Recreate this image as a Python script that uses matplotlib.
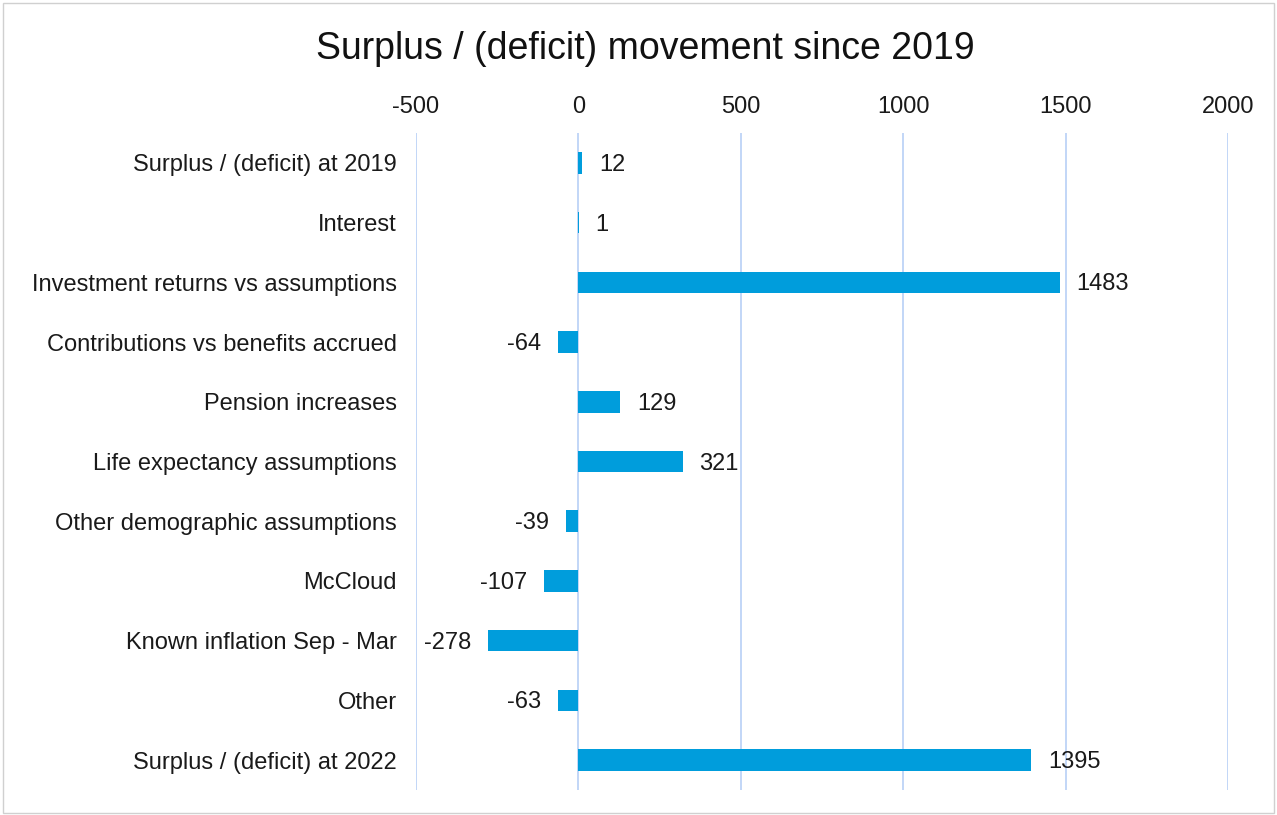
import matplotlib
matplotlib.use("Agg")
import matplotlib.pyplot as plt
from matplotlib.patches import Rectangle

categories = [
    "Surplus / (deficit) at 2019",
    "Interest",
    "Investment returns vs assumptions",
    "Contributions vs benefits accrued",
    "Pension increases",
    "Life expectancy assumptions",
    "Other demographic assumptions",
    "McCloud",
    "Known inflation Sep - Mar",
    "Other",
    "Surplus / (deficit) at 2022",
]
values = [12, 1, 1483, -64, 129, 321, -39, -107, -278, -63, 1395]
xticks = [-500, 0, 500, 1000, 1500, 2000]
title = "Surplus / (deficit) movement since 2019"

plt.rcParams['font.family'] = ['Liberation Sans', 'DejaVu Sans']

fig = plt.figure(figsize=(12.77, 8.15), dpi=100)
ax = fig.add_axes([416/1277, 1-790/815, (1228-416)/1277, (790-133)/815])

bar_color = "#009DDC"
ypos = list(range(len(categories)))
ax.barh(ypos, values, height=0.36, color=bar_color, zorder=3)

fs = 17
for y, v in zip(ypos, values):
    if v >= 0:
        ax.annotate(str(v), (v, y), xytext=(12, -1.5), textcoords="offset points",
                    ha="left", va="center", fontsize=fs, color="#1a1a1a")
    else:
        ax.annotate(str(v), (v, y), xytext=(-12, -1.5), textcoords="offset points",
                    ha="right", va="center", fontsize=fs, color="#1a1a1a")

ax.set_xlim(-500, 2000)
ax.set_ylim(len(categories) - 0.5, -0.5)
ax.set_xticks(xticks)
ax.set_xticklabels([str(t) for t in xticks], fontsize=fs, color="#1a1a1a")
ax.xaxis.tick_top()
ax.tick_params(axis="x", length=0, pad=11)
ax.set_yticks(ypos)
ax.set_yticklabels(categories, fontsize=fs, color="#1a1a1a")
ax.tick_params(axis="y", length=0, pad=14)
ax.grid(axis="x", color="#C2D6F7", linewidth=1.4, zorder=0)
for s in ax.spines.values():
    s.set_visible(False)

fig.text(645/1277, 1-49/815, title, ha="center", va="center", fontsize=27, color="#111111")

fig.patches.append(Rectangle((0.002, 0.002), 0.996, 0.994, transform=fig.transFigure,
                             fill=False, edgecolor="#D0D0D0", linewidth=1))

fig.savefig("out.png", dpi=100)
